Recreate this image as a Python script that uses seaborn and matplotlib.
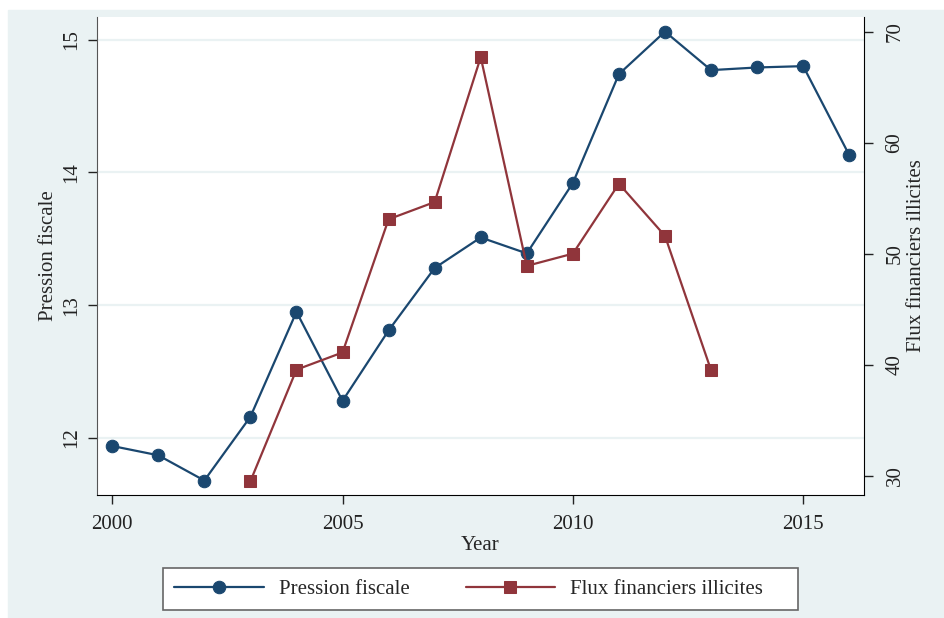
import pandas as pd
import matplotlib.pyplot as plt
import seaborn as sns
from matplotlib.patches import Rectangle

# Données
years_pf = [2000, 2001, 2002, 2003, 2004, 2005, 2006, 2007, 2008,
            2009, 2010, 2011, 2012, 2013, 2014, 2015, 2016]
pression_fiscale = [11.94, 11.87, 11.68, 12.16, 12.95, 12.28, 12.81, 13.28, 13.51,
                    13.39, 13.92, 14.74, 15.06, 14.77, 14.79, 14.80, 14.13]

years_ffi = [2003, 2004, 2005, 2006, 2007, 2008, 2009, 2010, 2011, 2012, 2013]
flux_illicites = [29.5, 39.55, 41.1, 53.1, 54.65, 67.7, 48.9, 50.0, 56.3, 51.6, 39.5]

x_ticks = [2000, 2005, 2010, 2015]
left_ticks = [12, 13, 14, 15]
right_ticks = [30, 40, 50, 60, 70]

blue = '#1a476f'
red = '#90353b'
bg = '#eaf2f3'
fs = 15

sns.set_style('white')
plt.rcParams['font.family'] = ['Liberation Serif', 'DejaVu Serif']

fig = plt.figure(figsize=(9.44, 6.18), dpi=100)
# fond bleu-gris façon Stata
fig.patches.append(Rectangle((8 / 944, 0), 1 - 8 / 944, 608 / 618,
                             transform=fig.transFigure, color=bg, zorder=-10))

ax = fig.add_axes([97 / 944, 123 / 618, 767 / 944, 478 / 618])
ax2 = ax.twinx()

df_pf = pd.DataFrame({'Year': years_pf, 'Pression fiscale': pression_fiscale})
df_ffi = pd.DataFrame({'Year': years_ffi, 'Flux financiers illicites': flux_illicites})

sns.lineplot(data=df_pf, x='Year', y='Pression fiscale', ax=ax, color=blue,
             marker='o', markersize=9, markeredgecolor=blue, linewidth=1.6,
             label='Pression fiscale', legend=False)
sns.lineplot(data=df_ffi, x='Year', y='Flux financiers illicites', ax=ax2, color=red,
             marker='s', markersize=8.5, markeredgecolor=red, linewidth=1.6,
             label='Flux financiers illicites', legend=False)

ax.set_xlim(1999.67, 2016.32)
ax.set_ylim(11.571, 15.17)
ax2.set_ylim(28.26, 71.32)

ax.set_xticks(x_ticks)
ax.set_yticks(left_ticks)
ax2.set_yticks(right_ticks)

ax.grid(True, axis='y', color=bg, linewidth=1.6)
ax.grid(False, axis='x')
ax2.grid(False)

for a in (ax, ax2):
    a.spines['top'].set_visible(False)
ax.spines['right'].set_visible(False)
ax.spines['left'].set_color('#555555')
ax.spines['bottom'].set_color('black')
ax2.spines['right'].set_color('black')
ax2.spines['left'].set_visible(False)
ax2.spines['bottom'].set_visible(False)

ax.tick_params(axis='x', direction='out', length=6.5, width=1, labelsize=fs,
               bottom=True, colors='#222222', pad=8)
ax.tick_params(axis='y', direction='out', length=6.5, width=1, labelsize=fs,
               left=True, colors='#222222', pad=5)
ax2.tick_params(axis='y', direction='out', length=6.5, width=1, labelsize=fs,
                right=True, colors='#222222', pad=9)
for lab in ax.get_yticklabels() + ax2.get_yticklabels():
    lab.set_rotation(90)
    lab.set_va('center')

ax.set_xlabel('Year', fontsize=fs, labelpad=1)
ax.set_ylabel('Pression fiscale', fontsize=fs, labelpad=3)
ax2.set_ylabel('Flux financiers illicites', fontsize=fs, labelpad=2)

# cadre de la légende
fig.patches.append(Rectangle((163 / 944, 8 / 618), 635 / 944, 42 / 618,
                             transform=fig.transFigure, facecolor='white',
                             edgecolor='#666666', linewidth=1.2, zorder=-5))
h1, l1 = ax.get_legend_handles_labels()
h2, l2 = ax2.get_legend_handles_labels()
fig.legend(h1 + h2, l1 + l2, loc='center left',
           bbox_to_anchor=(174 / 944, 29 / 618), ncol=2, fontsize=fs,
           frameon=False, handlelength=4.3, handletextpad=0.72,
           columnspacing=2.7, borderpad=0, borderaxespad=0)

fig.savefig('out.png', dpi=100, facecolor='white')
